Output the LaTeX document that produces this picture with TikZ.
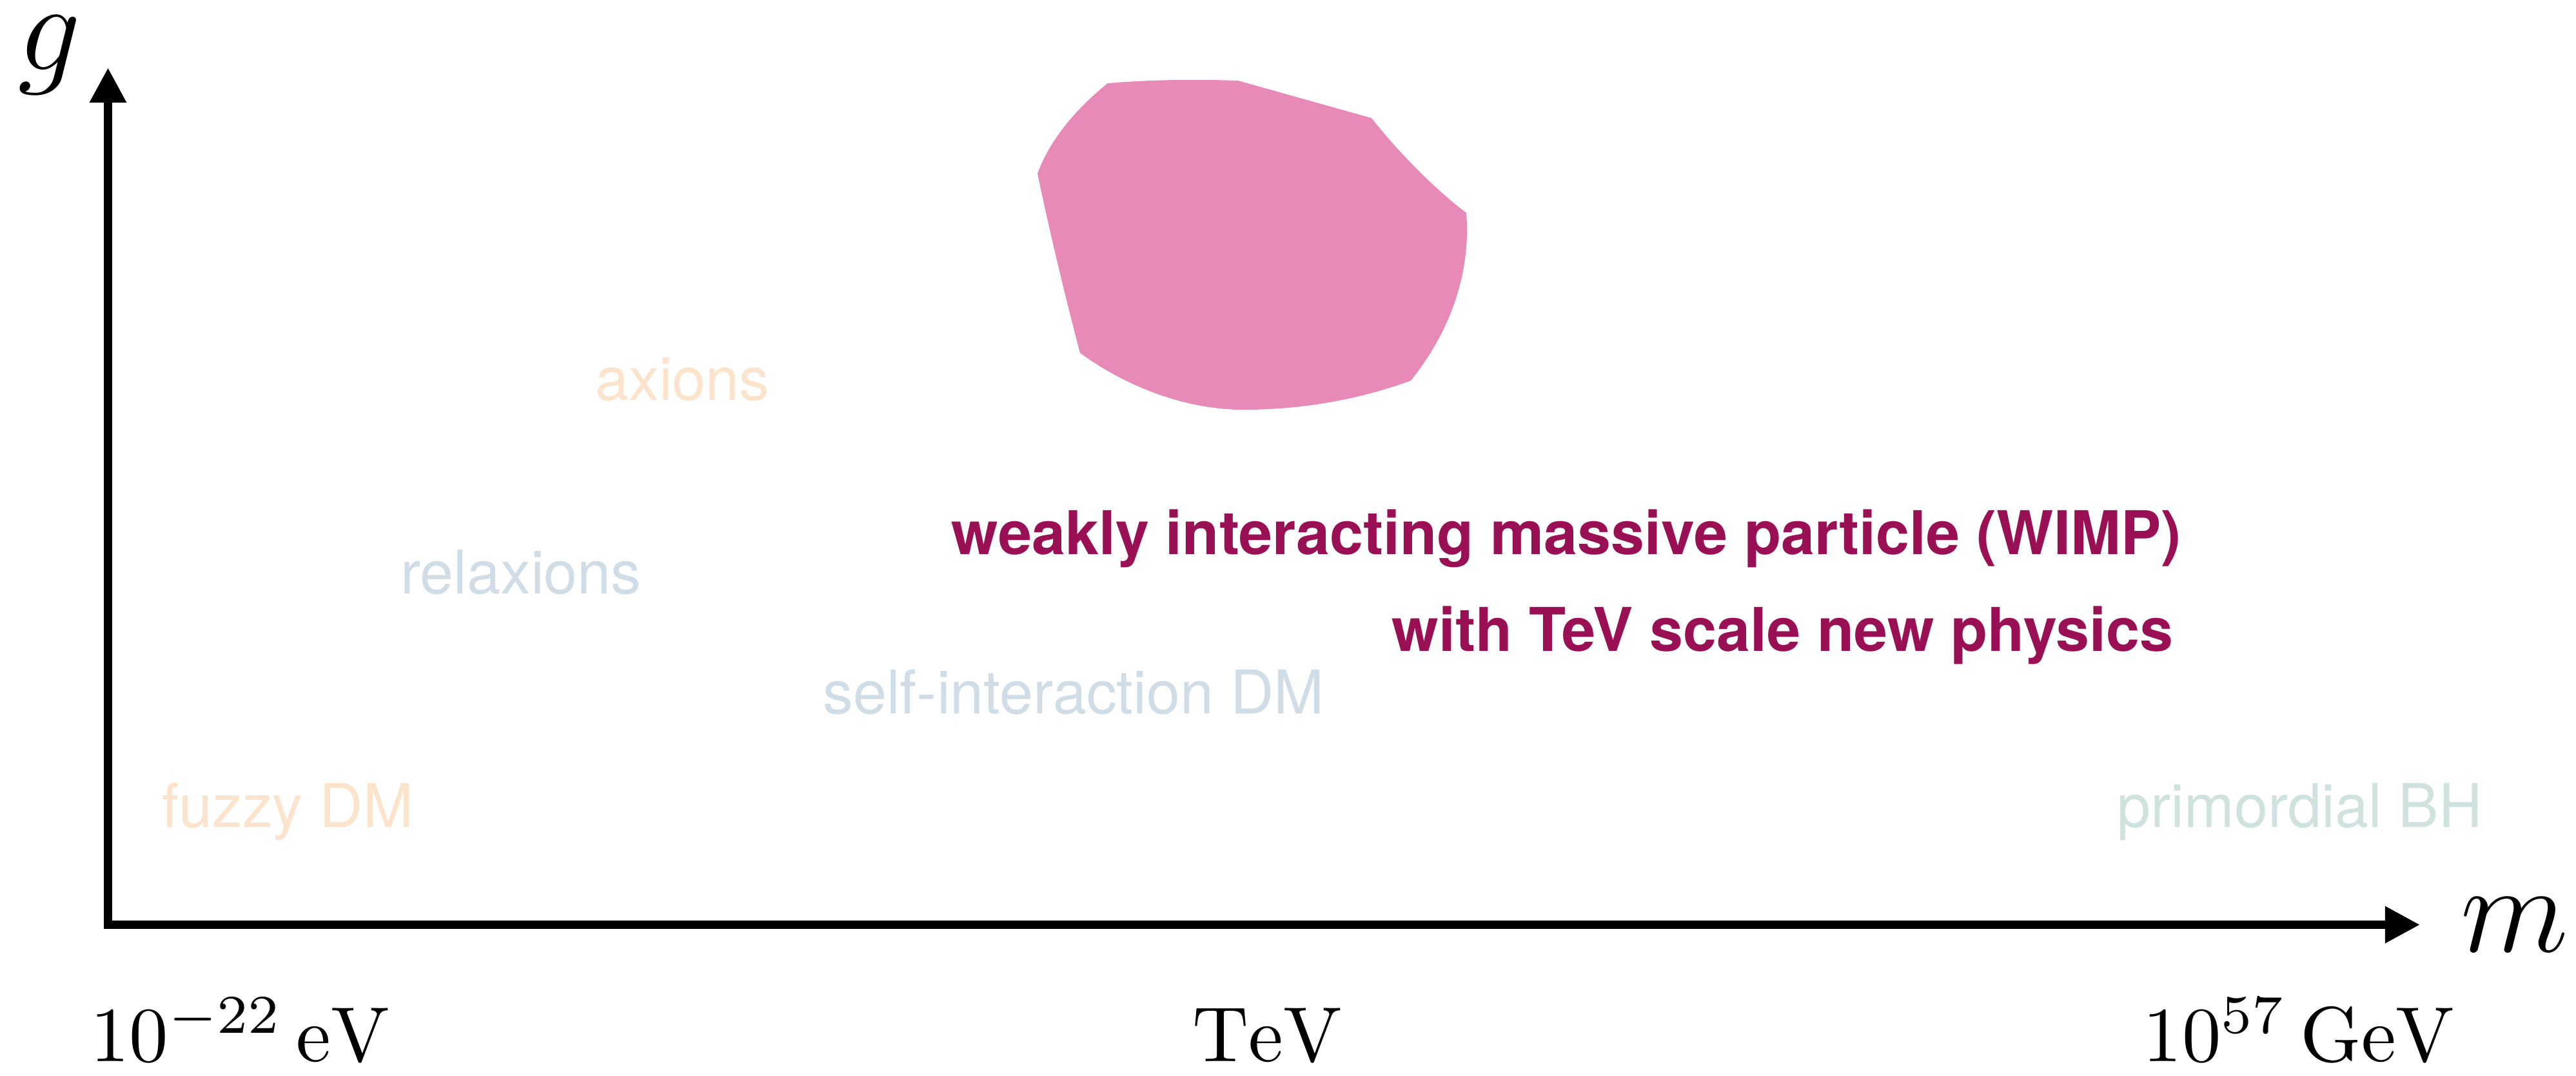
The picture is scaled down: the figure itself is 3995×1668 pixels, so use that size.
\documentclass[tikz,border=0pt]{standalone}
\usepackage{fontspec}
\setsansfont{TeX Gyre Heros}
\usetikzlibrary{arrows.meta}

\definecolor{wimpfill}{HTML}{E88AB8}
\definecolor{wimptext}{HTML}{9A1054}
\definecolor{peach}{HTML}{FCE3CC}
\definecolor{haze}{HTML}{D0DDE6}
\definecolor{sage}{HTML}{CFE2DF}

\newcommand{\varsym}[1]{\scalebox{1.113}{$#1$}}
\newcommand{\massval}[1]{\scalebox{1.72}{$#1$}}

\tikzset{
  axis/.style={line width=1.8pt, line join=miter,
    arrows={Triangle[length=7.7pt,width=7.7pt]-Triangle[length=7.7pt,width=7.7pt]}},
  varlabel/.style={inner sep=0pt, font=\fontsize{24.88}{30}\selectfont},
  scalelabel/.style={inner sep=0pt, anchor=base, font=\fontsize{10}{12}\selectfont},
  candidate/.style={inner sep=0pt, anchor=base west, font=\sffamily\fontsize{13.3}{16}\selectfont},
  wimp/.style={inner sep=0pt, anchor=base east, text=wimptext,
    font=\sffamily\bfseries\fontsize{13.3}{16}\selectfont},
  region/.style={fill=wimpfill, draw=none},
}

\begin{document}
\begin{tikzpicture}[x=0.05mm, y=-0.05mm]
  \useasboundingbox (0,0) rectangle (3995,1668);

  % axes
  \coordinate (origin) at (167.5,1433.5);
  \coordinate (gtip) at (167.5,105);
  \coordinate (mtip) at (3753,1433.5);
  \draw[axis] (gtip) |- (mtip);
  \node[varlabel] (g) at (77,86) {\varsym{g}};
  \node[varlabel] (m) at (3900,1434) {\varsym{m}};

  % mass scale
  \node[scalelabel] (low) at (372,1645) {\massval{10^{-22}\,\mathrm{eV}}};
  \node[scalelabel] (tev) at (1965,1645) {\massval{\mathrm{TeV}}};
  \node[scalelabel] (high) at (3565,1645) {\massval{10^{57}\,\mathrm{GeV}}};

  % WIMP region
  \fill[region] (1718,129) .. controls (1790,123) and (1860,123) .. (1920,125)
    -- (2127,183) .. controls (2160,225) and (2215,285) .. (2274,330)
    .. controls (2281,420) and (2252,510) .. (2188,590)
    .. controls (2100,622) and (2010,636) .. (1920,635)
    .. controls (1830,633) and (1740,595) .. (1675,547)
    .. controls (1652,460) and (1628,360) .. (1609,269)
    .. controls (1629,214) and (1673,165) .. cycle;

  % candidates
  \node[candidate, text=peach] (axions) at (922,620) {axions};
  \node[candidate, text=haze] (relaxions) at (620,920) {relaxions};
  \node[candidate, text=haze] (sidm) at (1275,1106) {self-interaction DM};
  \node[candidate, text=peach] (fuzzy) at (250,1282) {fuzzy DM};
  \node[candidate, text=sage] (pbh) at (3282,1282) {primordial BH};
  \node[wimp] (wimp) at (3384,859) {weakly interacting massive particle (WIMP)};
  \node[wimp] (tevnp) at (3372,1009) {with TeV scale new physics};
\end{tikzpicture}
\end{document}
